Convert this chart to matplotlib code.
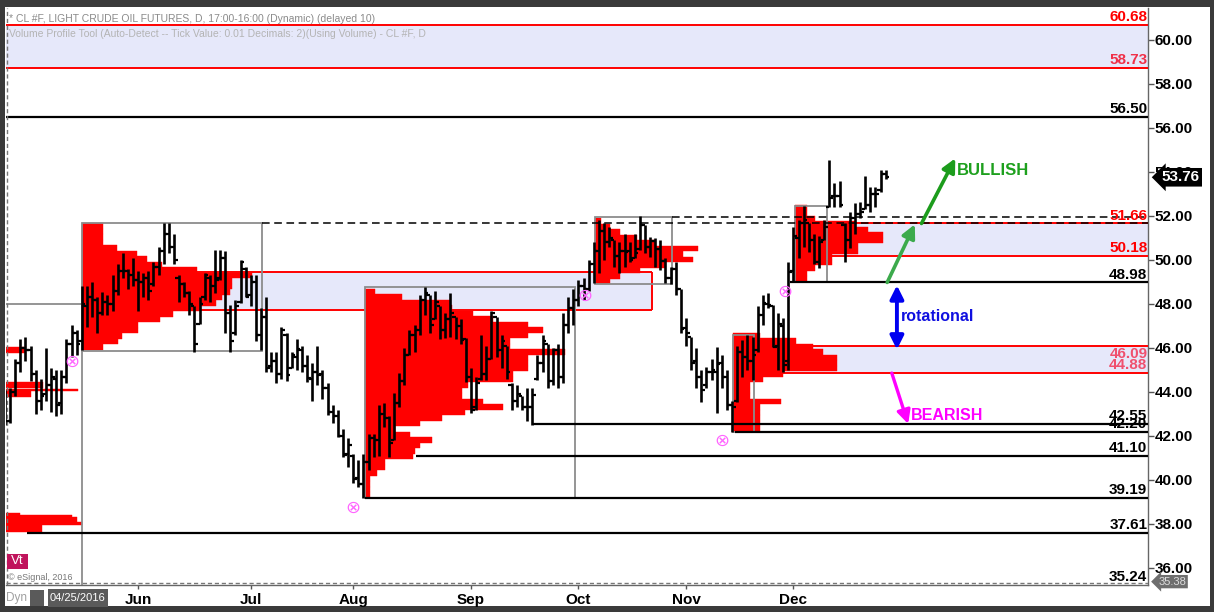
import numpy as np
import matplotlib.pyplot as plt
import matplotlib.transforms as mtransforms
from matplotlib.collections import LineCollection
from matplotlib.patches import Rectangle

plt.rcParams['font.family'] = ['Liberation Sans', 'DejaVu Sans']

# ---------------- data ----------------
# daily bars of CL #F, bar 0 = 04/25/2016
bar_open = [43.5, 42.7, 44.0, 45.3, 46.0, 45.9, 44.8, 43.6, 43.9, 44.3,
            44.6, 43.5, 44.7, 46.2, 46.7, 46.3, 47.9, 48.3, 48.2, 47.6,
            48.1, 48.0, 48.6, 49.5, 49.5, 49.3, 49.1, 49.0, 49.2, 48.9,
            49.7, 50.4, 51.2, 50.6, 49.2, 48.9, 48.5, 47.9, 47.1, 48.3,
            49.2, 48.8, 49.2, 50.1, 47.6, 46.7, 48.1, 49.6, 48.4, 49.0,
            46.6, 47.4, 45.2, 45.4, 44.8, 46.6, 45.1, 45.6, 45.9, 45.2,
            44.6, 44.9, 44.8, 44.2, 43.1, 42.9, 42.0, 41.2, 41.1, 40.1,
            39.8, 40.8, 41.9, 41.8, 43.0, 42.8, 41.8, 43.5, 44.5, 45.7,
            46.6, 46.8, 48.2, 48.4, 47.3, 47.9, 46.8, 47.3, 47.4, 47.0,
            46.4, 44.7, 43.3, 44.6, 44.8, 45.5, 47.4, 45.9, 46.1, 44.3,
            43.6, 43.8, 43.3, 43.3, 44.6, 45.3, 46.2, 44.5, 45.9, 44.7,
            47.05, 47.8, 48.2, 48.8, 48.7, 49.8, 50.4, 51.3, 50.8, 50.9,
            50.2, 50.4, 50.4, 50.1, 50.5, 51.6, 50.6, 50.85, 50.5, 49.96,
            49.2, 49.6, 48.7, 46.9, 46.5, 45.4, 44.7, 44.3, 44.9, 44.9,
            45.3, 44.7, 43.4, 43.6, 45.8, 45.6, 45.4, 45.9, 47.5, 48.0,
            47.9, 46.1, 47.0, 45.4, 49.5, 51.0, 51.7, 51.7, 50.9, 49.9,
            50.9, 52.4, 52.9, 52.9, 51.6, 50.9, 51.9, 52.1, 52.3, 52.5,
            53.0, 53.2, 53.9]
bar_high = [44.1, 44.2, 45.5, 46.4, 46.5, 46.1, 45.0, 44.6, 46.0, 45.1,
            45.0, 45.0, 46.4, 47.05, 46.8, 48.8, 48.8, 49.0, 48.3, 48.55,
            48.4, 49.3, 49.8, 50.3, 49.6, 50.1, 49.5, 49.4, 49.5, 49.9,
            50.6, 51.7, 51.7, 51.2, 49.3, 49.0, 48.6, 47.9, 48.3, 49.4,
            49.3, 50.45, 50.45, 50.4, 47.95, 48.2, 50.0, 49.7, 49.3, 49.3,
            47.8, 48.3, 45.8, 45.8, 46.95, 46.7, 45.8, 46.4, 46.1, 45.7,
            45.3, 46.1, 45.0, 44.4, 43.4, 43.2, 42.3, 41.9, 41.2, 40.9,
            41.2, 42.1, 42.1, 43.4, 43.5, 42.9, 43.95, 44.85, 46.0, 46.8,
            47.05, 48.4, 48.77, 48.4, 48.6, 47.9, 47.6, 48.5, 47.4, 47.3,
            46.45, 45.1, 44.7, 46.6, 46.1, 47.7, 47.4, 46.6, 46.1, 44.4,
            44.3, 43.8, 44.2, 44.2, 45.7, 46.6, 46.2, 46.0, 46.2, 47.6,
            48.3, 48.7, 49.1, 49.2, 50.0, 50.8, 51.8, 51.7, 51.5, 50.9,
            50.8, 51.2, 50.8, 51.2, 52.0, 51.6, 51.05, 51.0, 50.9, 50.1,
            49.7, 49.9, 48.7, 47.35, 46.5, 46.0, 45.0, 45.15, 45.5, 46.05,
            45.7, 45.0, 43.6, 46.1, 46.35, 46.6, 46.5, 47.9, 48.4, 48.5,
            47.95, 47.6, 47.35, 49.9, 51.5, 51.8, 52.45, 51.7, 51.2, 51.1,
            51.8, 54.55, 53.5, 53.6, 51.7, 52.2, 52.6, 52.65, 53.8, 53.3,
            53.3, 54.1, 54.1]
bar_low = [42.5, 42.6, 43.8, 44.9, 45.4, 44.5, 43.0, 43.2, 43.6, 43.1,
           42.9, 43.0, 44.4, 45.6, 45.7, 45.9, 46.95, 47.4, 46.7, 47.5,
           47.5, 47.7, 48.4, 49.2, 48.7, 48.8, 47.7, 48.3, 48.2, 48.8,
           49.3, 49.8, 50.3, 49.8, 48.1, 48.3, 47.5, 45.8, 47.1, 48.2,
           48.1, 48.5, 49.1, 46.7, 45.8, 46.6, 48.05, 48.3, 47.9, 46.3,
           45.9, 44.9, 44.9, 44.4, 44.6, 44.5, 45.1, 45.0, 44.9, 44.45,
           43.6, 44.3, 43.7, 42.95, 42.6, 41.95, 41.05, 40.6, 39.85, 39.7,
           39.19, 40.45, 41.05, 41.1, 42.4, 41.05, 41.8, 43.3, 44.3, 45.7,
           45.8, 46.6, 47.5, 46.7, 47.3, 46.4, 46.45, 46.5, 46.4, 46.2,
           44.45, 43.05, 43.2, 44.55, 44.55, 45.5, 45.6, 45.1, 44.6, 43.2,
           43.3, 43.2, 42.7, 42.5, 44.55, 44.9, 44.2, 44.3, 44.2, 44.4,
           46.7, 47.05, 47.9, 48.2, 48.6, 48.95, 49.4, 50.0, 50.6, 49.7,
           49.4, 49.7, 49.9, 50.1, 50.45, 50.3, 50.15, 49.7, 49.55, 48.95,
           48.9, 48.4, 46.7, 46.1, 45.0, 44.2, 43.55, 44.2, 44.55, 43.05,
           44.2, 43.2, 42.2, 43.55, 44.7, 45.0, 44.55, 45.8, 47.05, 47.8,
           46.05, 45.0, 44.9, 45.0, 49.0, 50.1, 50.6, 50.35, 49.8, 49.65,
           50.9, 52.4, 52.4, 52.4, 49.9, 50.55, 51.2, 51.9, 52.3, 52.2,
           52.4, 53.1, 53.7]
bar_close = [42.7, 44.0, 45.3, 46.0, 45.9, 44.8, 43.6, 43.8, 44.3, 44.7,
             43.4, 44.7, 46.2, 46.7, 46.2, 48.0, 48.3, 48.2, 47.6, 48.1,
             48.0, 48.6, 49.5, 49.5, 49.3, 49.1, 49.0, 49.2, 48.6, 49.7,
             50.4, 51.2, 50.6, 50.0, 48.9, 48.5, 48.0, 46.2, 48.0, 49.3,
             48.8, 49.1, 50.1, 47.6, 46.3, 47.9, 49.9, 48.3, 49.0, 46.6,
             47.4, 45.1, 45.4, 44.8, 46.8, 44.75, 45.7, 45.95, 45.2, 44.65,
             44.9, 44.75, 44.2, 43.1, 42.9, 42.0, 41.15, 41.6, 40.06, 39.8,
             40.8, 41.9, 41.8, 43.0, 42.8, 41.7, 43.5, 44.5, 45.7, 46.6,
             46.8, 48.2, 48.5, 47.05, 48.1, 46.8, 47.3, 47.6, 47.0, 46.35,
             44.7, 43.2, 44.4, 44.8, 45.5, 47.6, 45.9, 46.3, 44.9, 43.6,
             43.9, 43.3, 43.3, 43.85, 45.3, 46.3, 44.5, 45.9, 44.7, 47.05,
             47.8, 48.2, 48.8, 48.7, 49.8, 50.4, 51.3, 50.8, 51.0, 50.2,
             50.4, 50.35, 50.0, 50.3, 51.6, 50.6, 50.85, 50.5, 49.96, 49.2,
             49.6, 48.7, 46.86, 46.67, 45.34, 44.66, 44.07, 44.89, 44.98, 45.27,
             44.66, 43.41, 43.32, 45.81, 45.57, 45.42, 45.69, 47.49, 48.03, 47.96,
             46.06, 47.08, 45.23, 49.44, 51.1, 51.7, 51.8, 50.9, 49.9, 50.8,
             51.5, 52.8, 52.9, 52.5, 50.9, 51.9, 52.1, 52.2, 52.5, 53.0,
             53.0, 53.9, 53.76]

month_names = ['Jun', 'Jul', 'Aug', 'Sep', 'Oct', 'Nov', 'Dec']
month_first_bar = [26, 48, 68, 91, 112, 133, 154]

# volume profiles (start bar, lowest price, row height, row volume in bar widths)
prof_start = [15.0, 70.3, 115.2, 142.2, 154.3]
prof_low = [45.93, 39.19, 48.90, 42.20, 49.00]
prof_step = [0.25, 0.25, 0.25, 0.25, 0.25]
prof_vol = [
    [4.1, 7.0, 7.8, 10.9, 10.9, 15.2, 17.8, 23.0, 26.2, 27.3, 28.9, 29.3, 29.3,
     33.2, 22.5, 15.6, 12.7, 10.7, 6.8, 4.1, 4.1, 4.1, 4.1],
    [1.0, 1.0, 1.0, 1.0, 2.3, 3.9, 3.9, 9.4, 9.8, 10.7, 13.1, 8.8, 5.9, 10.7,
     15.0, 19.5, 27.0, 23.0, 18.9, 18.9, 20.1, 28.9, 28.9, 31.8, 31.8, 31.8,
     39.1, 28.3, 28.3, 31.8, 34.8, 31.8, 25.0, 21.1, 17.0, 16.6, 7.2, 2.0],
    [2.9, 4.9, 8.8, 13.7, 19.1, 17.2, 20.1, 11.7, 8.2, 4.9, 2.9, 1.2],
    [5.3, 5.3, 5.3, 5.3, 5.3, 9.4, 3.3, 3.3, 3.3, 5.9, 9.8, 20.3, 20.3, 20.3,
     17.6, 15.6, 12.3, 5.3],
    [2.3, 2.3, 3.9, 7.2, 7.2, 12.3, 12.3, 17.2, 17.2, 14.3, 11.7, 3.9, 2.3, 2.3],
]
# profile cut by the left edge of the chart
left_prof_bottom = [45.77, 44.20, 44.05, 43.77, 38.40, 38.32, 38.10, 37.95, 37.62]
left_prof_top = [46.05, 44.45, 44.14, 44.05, 38.50, 38.40, 38.32, 38.10, 37.95]
left_prof_vol = [3.7, 7.2, 14.0, 4.9, 2.7, 12.8, 13.9, 14.9, 7.0]

# profile boxes
box_left = [15.0, 70.3, 115.2, 142.2, 154.3]
box_right = [50.2, 111.3, 130.3, 146.3, 160.6]
box_low = [45.86, 39.19, 48.90, 42.18, 49.00]
box_high = [51.68, 48.77, 51.95, 46.59, 52.45]

# value areas
va_start = [15.0, 154.3, 142.2]
va_end = [126.4, None, None]
va_low = [47.73, 50.18, 44.88]
va_high = [49.47, 51.66, 46.09]
band_low, band_high = 58.73, 60.68

black_levels = [56.50, 48.98, 42.55, 42.20, 41.10, 39.19, 37.61]
black_start = [None, 153.3, 103.1, 142.6, 80.3, 70.3, 4.3]
dash_levels = [51.68, 51.95]
dash_start = [50.2, 130.3]

label_values = [60.68, 58.73, 56.50, 51.66, 50.18, 48.98, 46.09, 44.88,
                42.55, 42.20, 41.10, 39.19, 37.61, 35.24]
label_colors = ['#ff0000', '#f03048', 'black', '#ff0000', '#ff0000', 'black',
                '#f0506e', '#f0506e', 'black', 'black', 'black', 'black',
                'black', 'black']

pivot_bar = [13.1, 68.0, 113.3, 140.0, 152.3]
pivot_price = [45.36, 38.73, 48.36, 41.77, 48.55]

last_price = 53.76
low_tag = 35.38

# ---------------- figure ----------------
W, H = 1214.0, 612.0


def fx(px):
    return px / W


def fy(py):
    return 1 - py / H


fig = plt.figure(figsize=(12.14, 6.12), dpi=100, facecolor='#3a3a3a')
fig.add_artist(Rectangle((fx(5), fy(606)), fx(1210) - fx(5), fy(7) - fy(606),
                         transform=fig.transFigure, fc='white', ec='none', zorder=0))
ax = fig.add_axes([fx(6), fy(585), fx(1148) - fx(6), fy(8) - fy(585)])
ax.set_facecolor('white')
x_left, x_right = 0.195, 223.24
ax.set_xlim(x_left, x_right)
ax.set_ylim(35.227, 61.4545)

lav = '#e6e8fa'
red = '#ff0000'

# top band
ax.add_patch(Rectangle((x_left, band_low), x_right - x_left, band_high - band_low,
                       fc=lav, ec='none', zorder=1))
ax.hlines([band_low, band_high], x_left, x_right, colors=red, lw=1.4, zorder=3)

# value areas
for s, e, lo, hi in zip(va_start, va_end, va_low, va_high):
    end = x_right if e is None else e
    ax.add_patch(Rectangle((s, lo), end - s, hi - lo, fc=lav, ec='none', zorder=1))
    ax.hlines([lo, hi], s, end, colors=red, lw=1.4, zorder=3)
    if e is not None:
        ax.vlines(e, lo, hi, colors=red, lw=1.4, zorder=3)

# volume profiles
for s, lo, st, vol in zip(prof_start, prof_low, prof_step, prof_vol):
    ax.barh(lo + st * np.arange(len(vol)), vol, height=st, left=s, align='edge',
            color=red, edgecolor=red, linewidth=0.3, zorder=2)
ax.barh(left_prof_bottom, left_prof_vol, height=np.subtract(left_prof_top, left_prof_bottom),
        left=x_left, align='edge', color=red, edgecolor=red, linewidth=0.3, zorder=2)

# boxes
for l, r, lo, hi in zip(box_left, box_right, box_low, box_high):
    ax.add_patch(Rectangle((l, lo), r - l, hi - lo, fill=False, ec='#8c8c8c',
                           lw=1.3, zorder=3))
ax.plot([x_left, box_left[0], box_left[0]], [48.0, 48.0, 35.0], color='#8c8c8c',
        lw=1.3, zorder=3)

# levels
for lev, s in zip(black_levels, black_start):
    ax.hlines(lev, x_left if s is None else s, x_right, colors='black', lw=1.6, zorder=4)
for lev, s in zip(dash_levels, dash_start):
    ax.hlines(lev, s, x_right, colors='black', lw=1.1, linestyles=(0, (5, 3)), zorder=4)
ax.axvline(x_left + 0.2, color='#777777', lw=1, ls=(0, (3, 2)), zorder=4)
ax.axhline(35.30, color='#777777', lw=1, ls=(0, (3, 2)), zorder=4)

for v, c in zip(label_values, label_colors):
    va = 'top' if v == 46.09 else 'bottom'
    ax.text(0.9995, v + (-0.03 if va == 'top' else 0.03), '%.2f' % v, color=c,
            transform=mtransforms.blended_transform_factory(ax.transAxes, ax.transData),
            ha='right', va=va, fontsize=11, fontweight='bold', zorder=7)

# price bars
idx = np.arange(len(bar_close))
hl = [[(i, l), (i, h)] for i, l, h in zip(idx, bar_low, bar_high)]
op = [[(i - 0.7, o), (i, o)] for i, o in zip(idx, bar_open)]
cl = [[(i, c), (i + 0.7, c)] for i, c in zip(idx, bar_close)]
ax.add_collection(LineCollection(hl, colors='black', linewidths=1.9, zorder=5))
ax.add_collection(LineCollection(op + cl, colors='black', linewidths=1.6, zorder=5))

for b, p in zip(pivot_bar, pivot_price):
    ax.text(b, p, '\u2297', family='DejaVu Sans', fontsize=13, color='#ff66ff',
            ha='center', va='center', zorder=6)

# annotations
ax.annotate('', xy=(177.7, 51.62), xytext=(172.3, 48.98),
            arrowprops=dict(arrowstyle='-|>,head_length=0.8,head_width=0.4', lw=2.6,
                            color='#3caa4c', shrinkA=0, shrinkB=0), zorder=6)
ax.annotate('', xy=(185.6, 54.62), xytext=(179.0, 51.66),
            arrowprops=dict(arrowstyle='-|>,head_length=0.8,head_width=0.4', lw=2.6,
                            color='#1c9c1c', shrinkA=0, shrinkB=0), zorder=6)
ax.annotate('', xy=(174.2, 45.93), xytext=(174.2, 48.85),
            arrowprops=dict(arrowstyle='<|-|>,head_length=0.8,head_width=0.4', lw=2.8,
                            color='#0000f0', shrinkA=0, shrinkB=0), zorder=6)
ax.annotate('', xy=(176.4, 42.55), xytext=(173.2, 44.86),
            arrowprops=dict(arrowstyle='-|>,head_length=0.8,head_width=0.4', lw=2.4,
                            color='#ff00ff', shrinkA=0, shrinkB=0), zorder=6)
ax.text(186.0, 54.05, 'BULLISH', color='#1ea01e', fontsize=12, fontweight='bold',
        va='center', ha='left', zorder=7)
ax.text(175.0, 47.45, 'rotational', color='#1010e0', fontsize=11.5, fontweight='bold',
        va='center', ha='left', zorder=7)
ax.text(177.0, 42.95, 'BEARISH', color='#ff00ff', fontsize=11.5, fontweight='bold',
        va='center', ha='left', zorder=7)

# axes
for s in ['top', 'left']:
    ax.spines[s].set_visible(False)
for s in ['right', 'bottom']:
    ax.spines[s].set_color('#666666')
    ax.spines[s].set_linewidth(1)
ax.yaxis.tick_right()
ax.set_yticks(np.arange(36, 61, 2))
ax.set_yticklabels(['%.2f' % v for v in np.arange(36, 61, 2)], fontsize=11,
                   fontweight='bold')
ax.tick_params(axis='y', direction='out', length=4, width=1, color='#555555', pad=1)
ax.set_xticks(month_first_bar)
ax.set_xticklabels(month_names, fontsize=11, fontweight='bold')
ax.tick_params(axis='x', direction='out', length=3, width=1, color='#555555', pad=3)

tr = mtransforms.blended_transform_factory(ax.transAxes, ax.transData)
ax.text(1.012, last_price, '%.2f' % last_price, transform=tr, color='white',
        fontsize=11, fontweight='bold', ha='left', va='center', clip_on=False,
        bbox=dict(boxstyle='larrow,pad=0.15', fc='black', ec='none'), zorder=10)
ax.text(1.009, low_tag, '%.2f' % low_tag, transform=tr, color='#dddddd',
        fontsize=8, ha='left', va='center', clip_on=False,
        bbox=dict(boxstyle='larrow,pad=0.15', fc='#6e6e6e', ec='none'), zorder=10)

# header and widgets
fig.text(fx(9), fy(19), '* CL #F, LIGHT CRUDE OIL FUTURES, D, 17:00-16:00 (Dynamic) (delayed 10)',
         color='#8a8a8a', fontsize=7.5, va='center')
fig.text(fx(9), fy(34), 'Volume Profile Tool (Auto-Detect -- Tick Value: 0.01 Decimals: 2)(Using Volume) - CL #F, D',
         color='#b4b4b4', fontsize=7.5, va='center')
fig.add_artist(Rectangle((fx(7), fy(569)), fx(28) - fx(7), fy(554) - fy(569),
                         transform=fig.transFigure, fc='#c0145c', ec='none', zorder=5))
fig.text(fx(17.5), fy(561.5), 'Vt', color='white', fontsize=9.5, ha='center', va='center', zorder=6)
fig.text(fx(8), fy(577), '\u00a9 eSignal, 2016', color='#777777', fontsize=6.5, va='center')
fig.text(fx(6), fy(598), 'Dyn', color='#a0a0a0', fontsize=8.5, va='center')
fig.add_artist(Rectangle((fx(30), fy(606)), fx(44) - fx(30), fy(590) - fy(606),
                         transform=fig.transFigure, fc='#5a5a5a', ec='none', zorder=5))
fig.add_artist(Rectangle((fx(48), fy(607)), fx(108) - fx(48), fy(589) - fy(607),
                         transform=fig.transFigure, fc='#5a5a5a', ec='none', zorder=5))
fig.text(fx(78), fy(598), '04/25/2016', color='white', fontsize=8, ha='center',
         va='center', zorder=6)

fig.savefig('out.png', dpi=100, facecolor=fig.get_facecolor())
